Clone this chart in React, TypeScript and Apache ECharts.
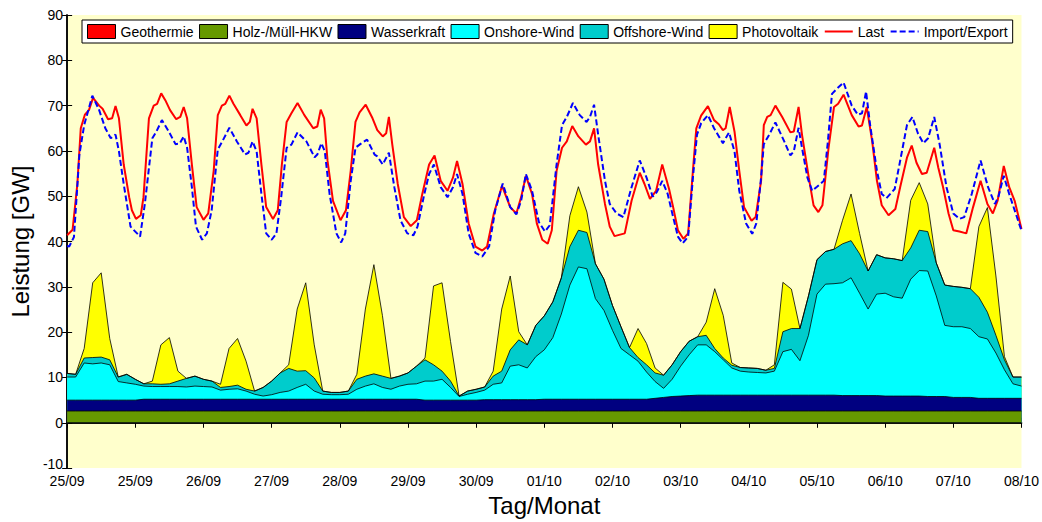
import React, { useEffect, useRef } from "react";
import * as echarts from "echarts";

// Tick labels of the time axis (one per day tick, as printed on the original)
const dayLabels = ["25/09", "25/09", "26/09", "27/09", "28/09", "29/09", "30/09", "01/10", "02/10", "03/10", "04/10", "05/10", "06/10", "07/10", "08/10"];

// Generation layers are sampled every 3 hours (0.125 day), starting at day 0
const STEP_DAYS = 0.125;

const biomass = [
  2.6, 2.6, 2.6, 2.6, 2.6, 2.6, 2.6, 2.6, 2.6, 2.6,
  2.6, 2.6, 2.6, 2.6, 2.6, 2.6, 2.6, 2.6, 2.6, 2.6,
  2.6, 2.6, 2.6, 2.6, 2.6, 2.6, 2.6, 2.6, 2.6, 2.6,
  2.6, 2.6, 2.6, 2.6, 2.6, 2.6, 2.6, 2.6, 2.6, 2.6,
  2.6, 2.6, 2.6, 2.6, 2.6, 2.6, 2.6, 2.6, 2.6, 2.6,
  2.6, 2.6, 2.6, 2.6, 2.6, 2.6, 2.6, 2.6, 2.6, 2.6,
  2.6, 2.6, 2.6, 2.6, 2.6, 2.6, 2.6, 2.6, 2.6, 2.6,
  2.6, 2.6, 2.6, 2.6, 2.6, 2.6, 2.6, 2.6, 2.6, 2.6,
  2.6, 2.6, 2.6, 2.6, 2.6, 2.6, 2.6, 2.6, 2.6, 2.6,
  2.6, 2.6, 2.6, 2.6, 2.6, 2.6, 2.6, 2.6, 2.6, 2.6,
  2.6, 2.6, 2.6, 2.6, 2.6, 2.6, 2.6, 2.6, 2.6, 2.6,
  2.6, 2.6, 2.6,
];

const hydro = [
  2.4, 2.4, 2.4, 2.4, 2.4, 2.4, 2.4, 2.4, 2.4, 2.6,
  2.6, 2.6, 2.6, 2.6, 2.6, 2.6, 2.6, 2.6, 2.6, 2.6,
  2.6, 2.6, 2.6, 2.6, 2.6, 2.6, 2.6, 2.6, 2.6, 2.6,
  2.6, 2.6, 2.6, 2.6, 2.6, 2.6, 2.6, 2.6, 2.6, 2.6,
  2.6, 2.6, 2.4, 2.4, 2.4, 2.4, 2.4, 2.4, 2.4, 2.5,
  2.5, 2.5, 2.5, 2.5, 2.5, 2.5, 2.6, 2.6, 2.6, 2.6,
  2.6, 2.6, 2.6, 2.6, 2.6, 2.6, 2.6, 2.6, 2.6, 2.8,
  3.0, 3.2, 3.3, 3.4, 3.5, 3.5, 3.5, 3.5, 3.5, 3.5,
  3.5, 3.5, 3.5, 3.5, 3.5, 3.5, 3.5, 3.5, 3.5, 3.5,
  3.5, 3.4, 3.4, 3.4, 3.4, 3.4, 3.3, 3.3, 3.3, 3.3,
  3.3, 3.2, 3.2, 3.2, 3.0, 3.0, 3.0, 2.8, 2.8, 2.8,
  2.8, 2.8, 2.8,
];

const onshore = [
  5.1, 5.1, 8.2, 8.0, 8.2, 7.8, 4.1, 3.8, 3.5, 2.9,
  2.8, 2.8, 2.8, 2.8, 2.7, 2.9, 2.8, 2.7, 2.0, 2.2,
  2.3, 1.8, 1.1, 0.7, 1.0, 1.5, 1.8, 2.6, 3.3, 1.8,
  1.1, 1.0, 1.0, 1.1, 2.2, 2.9, 3.4, 2.6, 2.2, 2.9,
  3.3, 3.4, 4.2, 4.2, 4.6, 2.8, 0.8, 1.3, 1.7, 2.1,
  3.4, 3.7, 7.4, 7.7, 7.0, 9.5, 10.9, 13.6, 18.8, 25.2,
  29.2, 28.8, 22.2, 19.6, 15.2, 11.2, 9.8, 8.4, 6.0, 3.7,
  2.0, 3.8, 6.6, 9.0, 11.1, 11.1, 9.6, 7.8, 6.0, 5.3,
  5.1, 5.0, 4.9, 5.3, 9.6, 10.1, 7.6, 13.2, 22.3, 24.5,
  24.6, 24.9, 26.0, 22.6, 19.1, 22.4, 22.7, 21.9, 21.6, 25.8,
  27.7, 27.7, 22.2, 15.7, 15.6, 15.6, 15.2, 13.6, 13.1, 10.0,
  6.3, 3.2, 2.7,
];

const offshore = [
  0.8, 0.6, 1.1, 1.4, 1.3, 1.1, 1.0, 1.9, 1.1, 0.5,
  0.6, 0.5, 0.6, 1.2, 1.9, 2.2, 1.6, 1.3, 0.6, 0.6,
  0.8, 0.4, 0.7, 1.9, 3.0, 4.3, 5.0, 3.6, 3.0, 2.9,
  0.7, 0.5, 0.5, 0.7, 2.2, 2.2, 2.2, 2.5, 2.4, 2.2,
  2.5, 3.9, 4.7, 3.6, 1.8, 1.4, 0.1, 0.7, 0.7, 0.7,
  1.8, 2.6, 3.6, 5.5, 5.1, 6.9, 7.5, 7.9, 8.0, 8.5,
  8.1, 8.0, 7.7, 6.9, 5.5, 4.8, 1.6, 0.8, 1.6, 1.9,
  2.9, 3.2, 3.2, 3.0, 1.8, 2.1, 0.7, 0.4, 0.6, 0.8,
  0.9, 0.9, 0.6, 0.6, 4.4, 4.6, 7.1, 8.7, 7.6, 7.2,
  7.6, 8.6, 8.2, 8.7, 8.4, 8.7, 7.8, 8.4, 8.3, 6.9,
  8.9, 8.7, 7.3, 8.9, 8.9, 8.7, 8.8, 8.7, 5.9, 3.9,
  2.2, 1.5, 2.0,
];

const photovoltaik = [
  0, 0, 2.1, 16.5, 18.6, 4.7, 0, 0, 0, 0,
  0.6, 8.7, 10.2, 2.2, 0, 0, 0, 0, 0.7, 8.4,
  10.3, 6.2, 0, 0, 0, 0, 0.8, 13.7, 19.4, 7.3,
  0, 0, 0, 0, 1.1, 14.8, 24.1, 13.4, 0, 0,
  0, 0, 0.4, 17.4, 19.5, 8.7, 0, 0, 0, 0,
  1.1, 13.7, 16.3, 1.8, 0, 0, 0, 0, 0, 6.8,
  9.6, 4.5, 0, 0, 0, 0, 0, 6.4, 4.7, 1.1,
  0, 0, 0, 0, 0, 2.9, 13.2, 9.4, 0.5, 0,
  0, 0, 0, 0.8, 10.9, 8.7, 0, 0, 0, 0,
  0, 5.2, 10.3, 4.5, 0, 0, 0, 0, 0, 10.5,
  10.5, 6.1, 0, 0, 0, 0, 0, 15.6, 23.1, 13.1,
  0.7, 0, 0,
];

const geothermie: [number, number][] = [[0, 0.03], [14, 0.03]];

// [day, GW]
const last: [number, number][] = [
  [0.00, 41.4], [0.08, 42.6], [0.15, 52.7], [0.20, 65.0], [0.26, 68.0], [0.32, 69.0], [0.38, 71.7], [0.47, 70.0], [0.52, 69.3], [0.60, 67.0],
  [0.66, 67.2], [0.71, 69.9], [0.76, 67.2], [0.83, 57.0], [0.91, 49.8], [0.95, 46.9], [1.01, 45.0], [1.08, 45.8], [1.12, 49.8], [1.20, 67.2],
  [1.27, 70.0], [1.32, 70.4], [1.38, 72.7], [1.44, 71.2], [1.51, 69.0], [1.60, 67.0], [1.66, 67.5], [1.71, 69.7], [1.76, 67.2], [1.83, 57.0],
  [1.90, 47.6], [2.00, 44.8], [2.07, 46.2], [2.15, 55.6], [2.21, 67.9], [2.27, 70.0], [2.32, 70.4], [2.38, 72.2], [2.44, 70.4], [2.54, 67.9],
  [2.63, 65.6], [2.68, 66.4], [2.72, 69.3], [2.78, 67.2], [2.85, 57.0], [2.92, 47.6], [3.02, 45.0], [3.09, 46.9], [3.15, 57.0], [3.22, 66.4],
  [3.29, 68.3], [3.38, 70.6], [3.48, 67.9], [3.61, 65.0], [3.67, 65.4], [3.72, 69.1], [3.77, 67.2], [3.82, 57.8], [3.90, 49.0], [4.01, 44.7],
  [4.09, 46.9], [4.16, 55.6], [4.23, 66.4], [4.29, 68.5], [4.38, 70.2], [4.48, 67.2], [4.55, 64.6], [4.63, 63.2], [4.68, 63.9], [4.72, 67.5],
  [4.77, 61.4], [4.85, 52.7], [4.94, 45.4], [5.04, 43.4], [5.13, 44.7], [5.21, 50.5], [5.31, 57.0], [5.39, 59.0], [5.48, 53.4], [5.58, 51.2],
  [5.66, 54.1], [5.72, 57.8], [5.80, 52.7], [5.89, 44.0], [5.99, 38.9], [6.09, 38.0], [6.16, 38.9], [6.26, 46.2], [6.38, 52.3], [6.50, 47.6],
  [6.59, 46.2], [6.66, 49.8], [6.73, 54.5], [6.82, 50.5], [6.89, 44.0], [6.97, 40.4], [7.05, 39.5], [7.11, 42.5], [7.18, 55.6], [7.26, 60.7],
  [7.33, 62.1], [7.41, 65.5], [7.50, 63.2], [7.61, 61.4], [7.67, 62.1], [7.73, 65.0], [7.79, 57.0], [7.89, 48.3], [7.96, 43.3], [8.03, 41.2],
  [8.18, 41.8], [8.28, 49.0], [8.40, 55.2], [8.47, 52.7], [8.55, 49.4], [8.64, 51.2], [8.73, 57.0], [8.83, 51.6], [8.89, 47.6], [8.96, 42.5],
  [9.04, 40.6], [9.11, 41.8], [9.18, 55.6], [9.23, 65.0], [9.30, 67.8], [9.40, 69.9], [9.49, 66.8], [9.56, 65.9], [9.62, 64.6], [9.66, 65.0],
  [9.72, 69.7], [9.79, 64.3], [9.86, 55.6], [9.93, 47.6], [10.04, 44.6], [10.10, 45.4], [10.18, 53.4], [10.22, 65.7], [10.27, 67.5], [10.32, 67.9],
  [10.39, 70.0], [10.49, 67.5], [10.61, 64.1], [10.66, 64.3], [10.73, 69.7], [10.78, 63.6], [10.88, 54.1], [10.95, 48.0], [11.02, 46.5], [11.08, 48.0],
  [11.17, 60.7], [11.25, 69.7], [11.31, 70.4], [11.39, 72.4], [11.51, 67.9], [11.61, 65.4], [11.66, 65.6], [11.73, 69.7], [11.81, 62.1], [11.88, 53.4],
  [11.95, 48.0], [12.05, 45.8], [12.15, 47.2], [12.22, 52.0], [12.32, 58.5], [12.39, 61.2], [12.46, 57.4], [12.54, 54.9], [12.61, 55.2], [12.72, 60.7],
  [12.78, 56.3], [12.85, 52.0], [12.93, 46.2], [13.00, 42.5], [13.09, 42.2], [13.19, 41.8], [13.29, 47.6], [13.40, 53.4], [13.50, 48.3], [13.58, 46.2],
  [13.65, 49.0], [13.74, 56.7], [13.82, 52.0], [13.90, 49.0], [14.00, 42.8],
];

const importExport: [number, number][] = [
  [0.00, 39.0], [0.03, 38.9], [0.10, 41.0], [0.18, 59.2], [0.25, 65.7], [0.37, 72.2], [0.47, 69.0], [0.56, 65.0], [0.64, 62.8], [0.71, 63.6],
  [0.76, 59.9], [0.83, 52.7], [0.93, 43.3], [1.00, 42.2], [1.07, 41.1], [1.14, 48.3], [1.25, 62.8], [1.31, 64.3], [1.39, 66.8], [1.49, 64.3],
  [1.59, 61.5], [1.65, 61.6], [1.71, 63.2], [1.76, 60.7], [1.83, 52.0], [1.89, 43.3], [1.98, 40.4], [2.05, 41.8], [2.12, 46.9], [2.21, 60.3],
  [2.29, 62.5], [2.38, 65.1], [2.49, 62.1], [2.61, 59.2], [2.66, 59.6], [2.72, 62.1], [2.78, 59.9], [2.85, 50.5], [2.92, 41.8], [3.00, 40.4],
  [3.07, 41.8], [3.14, 49.8], [3.22, 60.7], [3.29, 61.4], [3.38, 64.1], [3.51, 62.1], [3.63, 58.6], [3.67, 59.2], [3.73, 61.7], [3.78, 59.9],
  [3.85, 50.5], [3.95, 41.8], [4.02, 39.8], [4.08, 41.8], [4.16, 53.4], [4.23, 60.7], [4.30, 61.5], [4.40, 62.5], [4.51, 59.2], [4.55, 58.8],
  [4.63, 57.0], [4.72, 59.6], [4.80, 52.0], [4.89, 44.7], [4.99, 41.8], [5.08, 41.4], [5.14, 43.3], [5.24, 50.5], [5.31, 54.9], [5.38, 57.0],
  [5.48, 52.0], [5.58, 49.8], [5.66, 52.0], [5.72, 54.9], [5.80, 50.5], [5.89, 41.8], [5.99, 37.5], [6.09, 36.7], [6.19, 38.9], [6.28, 46.9],
  [6.39, 52.8], [6.50, 47.6], [6.59, 46.0], [6.66, 49.0], [6.73, 54.9], [6.82, 51.2], [6.92, 44.3], [7.01, 42.2], [7.08, 43.6], [7.18, 57.0],
  [7.26, 65.7], [7.33, 67.5], [7.42, 70.6], [7.52, 67.9], [7.62, 66.4], [7.67, 67.5], [7.73, 70.2], [7.79, 63.6], [7.89, 53.4], [7.96, 48.3],
  [8.06, 46.2], [8.16, 45.4], [8.28, 52.0], [8.40, 57.9], [8.50, 54.1], [8.59, 49.9], [8.65, 50.9], [8.73, 53.4], [8.81, 50.5], [8.89, 45.4],
  [8.96, 41.1], [9.03, 39.6], [9.11, 41.1], [9.18, 54.1], [9.24, 63.6], [9.30, 66.1], [9.40, 67.9], [9.49, 65.0], [9.62, 61.7], [9.71, 64.1],
  [9.79, 59.9], [9.86, 51.2], [9.96, 44.0], [10.05, 41.7], [10.11, 44.0], [10.18, 54.1], [10.22, 61.5], [10.30, 63.6], [10.39, 66.3], [10.52, 62.1],
  [10.61, 59.0], [10.66, 59.9], [10.73, 65.1], [10.78, 60.7], [10.86, 54.1], [10.93, 51.2], [11.00, 52.1], [11.10, 53.4], [11.16, 62.1], [11.22, 72.6],
  [11.29, 73.7], [11.39, 75.1], [11.51, 70.0], [11.60, 68.0], [11.66, 68.3], [11.72, 73.1], [11.78, 65.7], [11.88, 55.6], [11.95, 50.5], [12.02, 49.6],
  [12.14, 51.6], [12.22, 57.8], [12.32, 65.7], [12.40, 67.5], [12.48, 63.9], [12.56, 61.7], [12.63, 62.8], [12.72, 67.5], [12.80, 61.4], [12.90, 52.0],
  [13.00, 46.2], [13.09, 45.0], [13.16, 45.4], [13.27, 50.5], [13.40, 57.9], [13.51, 52.0], [13.61, 48.3], [13.66, 49.8], [13.74, 54.5], [13.82, 50.5],
  [14.00, 42.4],
];

const FONT = "'Liberation Sans', Arial, Helvetica, sans-serif";

const COLORS = {
  geo: "#FF0000",
  bio: "#669900",
  hydro: "#000080",
  onshore: "#00FFFF",
  offshore: "#00CCCC",
  pv: "#FFFF00",
  last: "#FF0000",
  imp: "#0000FF",
};

export default function App() {
  const ref = useRef<HTMLDivElement>(null);

  useEffect(() => {
    if (!ref.current) return;
    const chart = echarts.init(ref.current, undefined, { renderer: "svg" });

    const times = biomass.map((_, i) => i * STEP_DAYS);
    const layerValues = [biomass, hydro, onshore, offshore, photovoltaik];
    let acc = times.map(() => 0);
    const tops = layerValues.map((arr) => {
      acc = acc.map((a, i) => a + arr[i]);
      return acc;
    });
    const toPairs = (top: number[]) => times.map((t, i) => [t, top[i]]);

    const areaSeries = (name: string, color: string, data: any[]) => ({
      name,
      type: "line",
      data,
      symbol: "none",
      showSymbol: false,
      itemStyle: { color },
      lineStyle: { color: "#000", width: 0.8 },
      areaStyle: { color, opacity: 1 },
      emphasis: { disabled: true },
    });

    const axisCommon = {
      axisLine: { show: true, lineStyle: { color: "#000", width: 1.5 } },
      axisTick: { show: true, inside: true, length: 5, lineStyle: { color: "#000", width: 1 } },
      splitLine: { show: false },
    };

    const rectIcon = (name: string, color: string) => ({
      name,
      icon: "rect",
      itemStyle: { color, borderColor: "#000", borderWidth: 1 },
    });

    const option: any = {
      animation: false,
      backgroundColor: "#FFFFFF",
      grid: {
        left: 67,
        right: 15,
        top: 15,
        bottom: 47,
        show: true,
        backgroundColor: "#FFFFCC",
        borderWidth: 0,
      },
      legend: {
        left: 82,
        top: 20,
        orient: "horizontal",
        itemWidth: 28,
        itemHeight: 14,
        itemGap: 5.4,
        padding: [4, 5, 4, 5],
        backgroundColor: "#FFFFFF",
        borderColor: "#000",
        borderWidth: 1,
        borderRadius: 0,
        textStyle: { fontFamily: FONT, fontSize: 14, color: "#000" },
        data: [
          rectIcon("Geothermie", COLORS.geo),
          rectIcon("Holz-/Müll-HKW", COLORS.bio),
          rectIcon("Wasserkraft", COLORS.hydro),
          rectIcon("Onshore-Wind", COLORS.onshore),
          rectIcon("Offshore-Wind", COLORS.offshore),
          rectIcon("Photovoltaik", COLORS.pv),
          { name: "Last", itemStyle: { opacity: 0 } },
          { name: "Import/Export", itemStyle: { opacity: 0 } },
        ],
      },
      xAxis: [
        {
          type: "value",
          min: 0,
          max: 14,
          interval: 1,
          position: "bottom",
          name: "Tag/Monat",
          nameLocation: "middle",
          nameGap: 23,
          nameTextStyle: { fontFamily: FONT, fontSize: 24, color: "#000" },
          axisLabel: {
            fontFamily: FONT,
            fontSize: 14,
            color: "#000",
            margin: 6,
            formatter: (v: number) => dayLabels[Math.round(v)] ?? "",
          },
          ...axisCommon,
        },
        {
          type: "value",
          min: 0,
          max: 14,
          interval: 1,
          position: "top",
          axisLabel: { show: false },
          ...axisCommon,
        },
      ],
      yAxis: [
        {
          type: "value",
          min: -10,
          max: 90,
          interval: 10,
          position: "left",
          name: "Leistung [GW]",
          nameLocation: "middle",
          nameGap: 23,
          nameTextStyle: { fontFamily: FONT, fontSize: 24, color: "#000" },
          axisLabel: {
            fontFamily: FONT,
            fontSize: 14,
            color: "#000",
            margin: 4,
            formatter: (v: number) => (v === -10 ? "{low|-10}" : String(v)),
            rich: {
              low: { fontFamily: FONT, fontSize: 14, color: "#000", padding: [0, 0, 8, 0] },
            },
          },
          ...axisCommon,
        },
        {
          type: "value",
          min: -10,
          max: 90,
          interval: 10,
          position: "right",
          axisLabel: { show: false },
          ...axisCommon,
        },
      ],
      series: [
        areaSeries("Photovoltaik", COLORS.pv, toPairs(tops[4])),
        areaSeries("Offshore-Wind", COLORS.offshore, toPairs(tops[3])),
        areaSeries("Onshore-Wind", COLORS.onshore, toPairs(tops[2])),
        areaSeries("Wasserkraft", COLORS.hydro, toPairs(tops[1])),
        areaSeries("Holz-/Müll-HKW", COLORS.bio, toPairs(tops[0])),
        areaSeries("Geothermie", COLORS.geo, geothermie),
        {
          name: "Last",
          type: "line",
          data: last,
          symbol: "none",
          showSymbol: false,
          itemStyle: { color: COLORS.last },
          lineStyle: { color: COLORS.last, width: 2 },
          emphasis: { disabled: true },
          z: 5,
        },
        {
          name: "Import/Export",
          type: "line",
          data: importExport,
          symbol: "none",
          showSymbol: false,
          itemStyle: { color: COLORS.imp },
          lineStyle: { color: COLORS.imp, width: 2, type: [6, 3] },
          emphasis: { disabled: true },
          z: 6,
        },
      ],
    };

    chart.setOption(option);
    return () => chart.dispose();
  }, []);

  return (
    <div
      ref={ref}
      style={{ position: "fixed", left: 0, top: 0, width: 1042, height: 522, background: "#fff" }}
    />
  );
}
